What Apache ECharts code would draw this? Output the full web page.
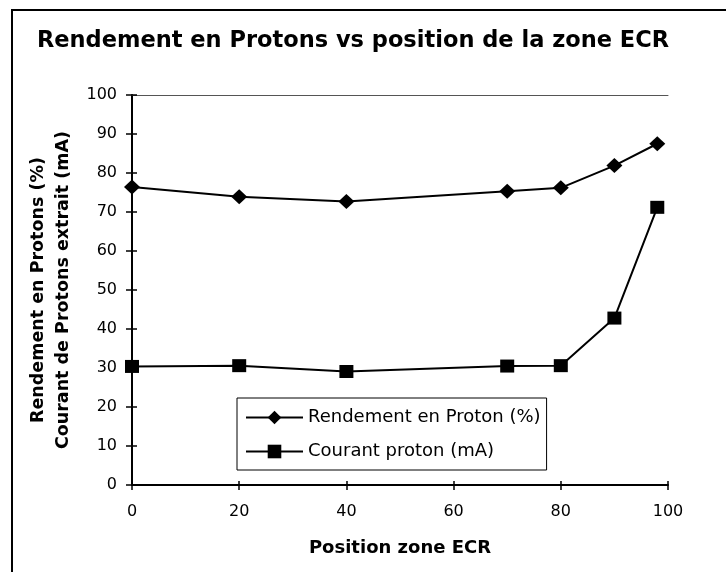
<!DOCTYPE html>
<html>
<head>
<meta charset="utf-8">
<script src="https://cdn.jsdelivr.net/npm/echarts@6/dist/echarts.min.js"></script>
<style>
  html, body { margin: 0; padding: 0; background: #fff; }
  #chart { width: 726px; height: 572px; }
</style>
</head>
<body>
<div id="chart"></div>
<script>
// Position of the ECR zone (x) and the two measured quantities
const positions = [0, 20, 40, 70, 80, 90, 98];
const rendement = [76.4, 73.9, 72.7, 75.3, 76.2, 81.9, 87.5];   // Rendement en Proton (%)
const courant   = [30.4, 30.6, 29.1, 30.5, 30.6, 42.8, 71.2];   // Courant proton (mA)

// Axis tick labels
const xTickLabels = [0, 20, 40, 60, 80, 100];
const yTickLabels = [0, 10, 20, 30, 40, 50, 60, 70, 80, 90, 100];

const seriesNames = ['Rendement en Proton (%)', 'Courant proton (mA)'];
const titleText = 'Rendement en Protons vs position de la zone ECR';
const xName = 'Position zone ECR';
const yName = 'Rendement en Protons (%)\nCourant de Protons extrait (mA)';

const FONT = 'DejaVu Sans';
const xMin = xTickLabels[0], xMax = xTickLabels[xTickLabels.length - 1];
const xStep = xTickLabels[1] - xTickLabels[0];
const yMin = yTickLabels[0], yMax = yTickLabels[yTickLabels.length - 1];
const yStep = yTickLabels[1] - yTickLabels[0];

const chart = echarts.init(document.getElementById('chart'), null, { renderer: 'canvas' });

const baseX = { type: 'value', min: xMin, max: xMax, interval: xStep, splitLine: { show: false } };
const baseY = { type: 'value', min: yMin, max: yMax, interval: yStep, splitLine: { show: false } };

chart.setOption({
  animation: false,
  backgroundColor: '#fff',
  title: {
    text: titleText,
    left: 37,
    top: 29,
    padding: 0,
    textStyle: { fontFamily: FONT, fontSize: 22.5, fontWeight: 'bold', color: '#000', lineHeight: 24 }
  },
  grid: { left: 132, right: 58, top: 95, bottom: 87, containLabel: false, outerBoundsMode: 'none' },
  legend: {
    data: seriesNames,
    orient: 'vertical',
    left: 237,
    top: 398,
    padding: [10, 6, 9, 8],
    itemGap: 15,
    itemWidth: 57,
    itemHeight: 17,
    borderColor: '#000',
    borderWidth: 1,
    backgroundColor: '#fff',
    textStyle: { fontFamily: FONT, fontSize: 18, color: '#000', lineHeight: 19 }
  },
  xAxis: [
    Object.assign({}, baseX, {
      position: 'bottom',
      name: xName,
      nameLocation: 'middle',
      nameGap: 54,
      nameTextStyle: { fontFamily: FONT, fontSize: 18, fontWeight: 'bold', color: '#000', lineHeight: 18 },
      axisLine: { show: true, onZero: false, lineStyle: { color: '#000', width: 2 } },
      axisTick: { show: true, inside: false, length: 5, lineStyle: { color: '#000', width: 1.5 } },
      axisLabel: { margin: 19, fontFamily: FONT, fontSize: 16, color: '#000' }
    }),
    Object.assign({}, baseX, {
      position: 'bottom',
      axisLine: { show: false },
      axisTick: { show: true, inside: true, length: 4, lineStyle: { color: '#000', width: 1.5 } },
      axisLabel: { show: false }
    }),
    Object.assign({}, baseX, {
      position: 'top',
      axisLine: { show: true, onZero: false, lineStyle: { color: '#555', width: 1 } },
      axisTick: { show: false },
      axisLabel: { show: false }
    })
  ],
  yAxis: [
    Object.assign({}, baseY, {
      position: 'left',
      name: yName,
      nameLocation: 'middle',
      nameRotate: 90,
      nameGap: 53,
      nameTextStyle: { fontFamily: FONT, fontSize: 17.5, fontWeight: 'bold', color: '#000', lineHeight: 25, align: 'center' },
      axisLine: { show: true, onZero: false, lineStyle: { color: '#000', width: 2 } },
      axisTick: { show: true, inside: false, length: 6, lineStyle: { color: '#000', width: 1.5 } },
      axisLabel: { margin: 15, fontFamily: FONT, fontSize: 16, color: '#000' }
    }),
    Object.assign({}, baseY, {
      position: 'left',
      axisLine: { show: false },
      axisTick: { show: true, inside: true, length: 5, lineStyle: { color: '#000', width: 1.5 } },
      axisLabel: { show: false }
    })
  ],
  series: [
    {
      name: seriesNames[0],
      type: 'line',
      xAxisIndex: 0,
      yAxisIndex: 0,
      data: positions.map((x, i) => [x, rendement[i]]),
      symbol: 'diamond',
      symbolSize: [16, 15],
      showAllSymbol: true,
      lineStyle: { color: '#000', width: 2 },
      itemStyle: { color: '#000', borderWidth: 0 },
      z: 3
    },
    {
      name: seriesNames[1],
      type: 'line',
      xAxisIndex: 0,
      yAxisIndex: 0,
      data: positions.map((x, i) => [x, courant[i]]),
      symbol: 'rect',
      symbolSize: [14, 13],
      showAllSymbol: true,
      lineStyle: { color: '#000', width: 2 },
      itemStyle: { color: '#000', borderWidth: 0 },
      z: 3
    }
  ],
  graphic: [
    {
      type: 'polyline',
      shape: { points: [[12, 572], [12, 10], [726, 10]] },
      style: { stroke: '#000', lineWidth: 2, fill: null },
      silent: true
    }
  ]
});
</script>
</body>
</html>
